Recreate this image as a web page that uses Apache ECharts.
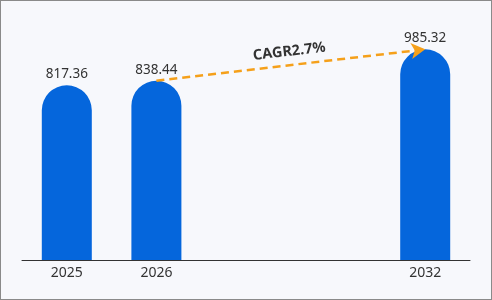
<!DOCTYPE html>
<html><head><meta charset="utf-8">
<script src="https://cdn.jsdelivr.net/npm/echarts@6/dist/echarts.min.js"></script>
<style>html,body{margin:0;padding:0;background:#f7f8fc}#c{width:490px;height:298px;border:1px solid #8a8a8a;background:#f7f8fc}</style>
</head><body><div id="c"></div>
<script>
const categories = ['2025', '2026', ' ', '  ', '2032'];
const values = [817.36, 838.44, null, null, 985.32];
const cagrText = 'CAGR2.7%';
const cagrFrom = 1, cagrTo = 4;

const chart = echarts.init(document.getElementById('c'));
chart.setOption({
  animation: false,
  backgroundColor: '#f7f8fc',
  grid: { left: 21, right: 21, top: 23.8, bottom: 39 },
  xAxis: {
    type: 'category', data: categories,
    axisLine: { lineStyle: { color: '#333', width: 1 } },
    axisTick: { show: false },
    axisLabel: { color: '#333', fontSize: 14, fontFamily: 'Noto Sans', margin: 6 }
  },
  yAxis: { type: 'value', min: 0, max: 1100, show: false, splitLine: { show: false } },
  series: [{
    type: 'bar', data: values, barWidth: 50,
    itemStyle: { color: '#0566dc', borderRadius: [25, 25, 0, 0] },
    label: { show: true, position: 'top', distance: 4, color: '#333', fontSize: 13.5, fontFamily: 'Noto Sans' },
    markLine: {
      silent: true,
      symbol: ['none', 'arrow'], symbolSize: [12, 14],
      lineStyle: { color: '#f5a01a', type: [8, 5], width: 2.5 },
      label: { show: true, position: 'middle', formatter: cagrText, color: '#333', fontWeight: 'bold', fontSize: 14.5, fontFamily: 'Noto Sans', distance: 6 },
      data: [[{ coord: [cagrFrom, values[cagrFrom]] }, { coord: [cagrTo, values[cagrTo]] }]]
    }
  }]
});
</script></body></html>
